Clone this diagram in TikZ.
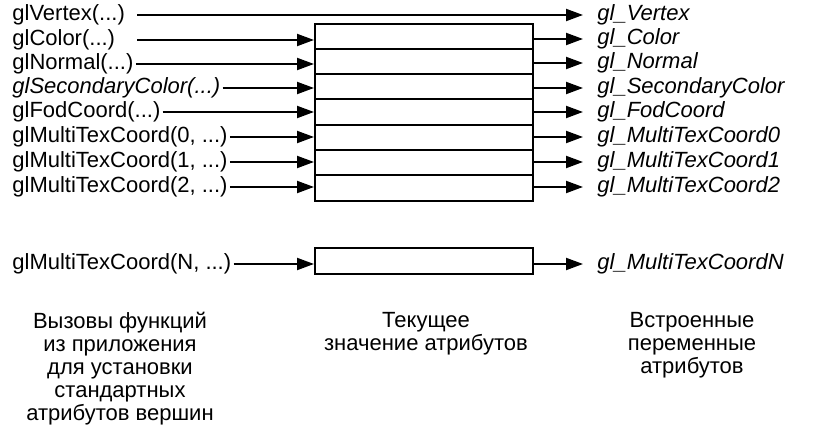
\documentclass[tikz,border=0pt]{standalone}
\usepackage{fontspec}
\setmainfont{Liberation Sans}
\usetikzlibrary{arrows.meta}
\begin{document}
\begin{tikzpicture}[x=0.5pt,y=-0.5pt,
  every node/.style={font=\fontsize{11}{11.5}\selectfont},
  lbl/.style={anchor=west,inner sep=1pt},
  var/.style={anchor=west,inner sep=0pt,font=\fontsize{11}{11.5}\selectfont\itshape},
  cell/.style={draw,line width=1pt,minimum width=109pt,minimum height=12.65pt,inner sep=0pt},
  arr/.style={line width=1pt,-{Triangle[length=8.5pt,width=6pt]}},
  rarr/.style={arr,shorten >=7pt},
  note/.style={anchor=north,align=center,inner sep=0pt}]
\useasboundingbox (0,0) rectangle (819,442);
% calls
\node[lbl] (vertex) at (10,15) {glVertex(...)};
\node[lbl] (color) at (10,40) {glColor(...)};
\node[lbl] (normal) at (10,64) {glNormal(...)};
\node[lbl] (second) at (10,88) {\itshape glSecondaryColor(...)};
\node[lbl] (fog) at (10,112) {glFodCoord(...)};
\node[lbl] (tex0) at (10,137) {glMultiTexCoord(0, ...)};
\node[lbl] (tex1) at (10,162) {glMultiTexCoord(1, ...)};
\node[lbl] (tex2) at (10,187) {glMultiTexCoord(2, ...)};
\node[lbl] (texn) at (10,264) {glMultiTexCoord(N, ...)};
% current values
\node[cell] (c1) at (424,36.2) {};
\node[cell] (c2) at (424,61.5) {};
\node[cell] (c3) at (424,86.8) {};
\node[cell] (c4) at (424,112.1) {};
\node[cell] (c5) at (424,137.4) {};
\node[cell] (c6) at (424,162.7) {};
\node[cell] (c7) at (424,188) {};
\node[cell,minimum height=13pt] (cn) at (424,261) {};
% built-in variables
\node[var] (vvertex) at (597,15) {gl\_Vertex};
\node[var] (vcolor) at (597,39) {gl\_Color};
\node[var] (vnormal) at (597,63) {gl\_Normal};
\node[var] (vsecond) at (597,88) {gl\_SecondaryColor};
\node[var] (vfog) at (597,112) {gl\_FodCoord};
\node[var] (vtex0) at (597,137) {gl\_MultiTexCoord0};
\node[var] (vtex1) at (597,162) {gl\_MultiTexCoord1};
\node[var] (vtex2) at (597,187) {gl\_MultiTexCoord2};
\node[var] (vtexn) at (597,264) {gl\_MultiTexCoordN};
% arrows in
\draw[rarr,shorten <=5pt] (vertex.east) -- (vvertex.west);
\draw[arr,shorten <=10pt] (color.east) -- (color.east -| c1.west);
\draw[arr] (normal.east) -- (normal.east -| c2.west);
\draw[arr] (second.east) -- (second.east -| c3.west);
\draw[arr] (fog.east) -- (fog.east -| c4.west);
\draw[arr] (tex0.east) -- (tex0.east -| c5.west);
\draw[arr] (tex1.east) -- (tex1.east -| c6.west);
\draw[arr] (tex2.east) -- (tex2.east -| c7.west);
\draw[arr] (texn.east) -- (texn.east -| cn.west);
% arrows out
\draw[rarr] (vcolor.west -| c1.east) -- (vcolor.west);
\draw[rarr] (vnormal.west -| c2.east) -- (vnormal.west);
\draw[rarr] (vsecond.west -| c3.east) -- (vsecond.west);
\draw[rarr] (vfog.west -| c4.east) -- (vfog.west);
\draw[rarr] (vtex0.west -| c5.east) -- (vtex0.west);
\draw[rarr] (vtex1.west -| c6.east) -- (vtex1.west);
\draw[rarr] (vtex2.west -| c7.east) -- (vtex2.west);
\draw[rarr] (vtexn.west -| cn.east) -- (vtexn.west);
% captions
\node[note] (calls) at (120,312) {Вызовы функций\\из приложения\\для установки\\стандартных\\атрибутов вершин};
\node[note] (values) at (426,312) {Текущее\\значение атрибутов};
\node[note] (builtin) at (692,312) {Встроенные\\переменные\\атрибутов};
\end{tikzpicture}
\end{document}
